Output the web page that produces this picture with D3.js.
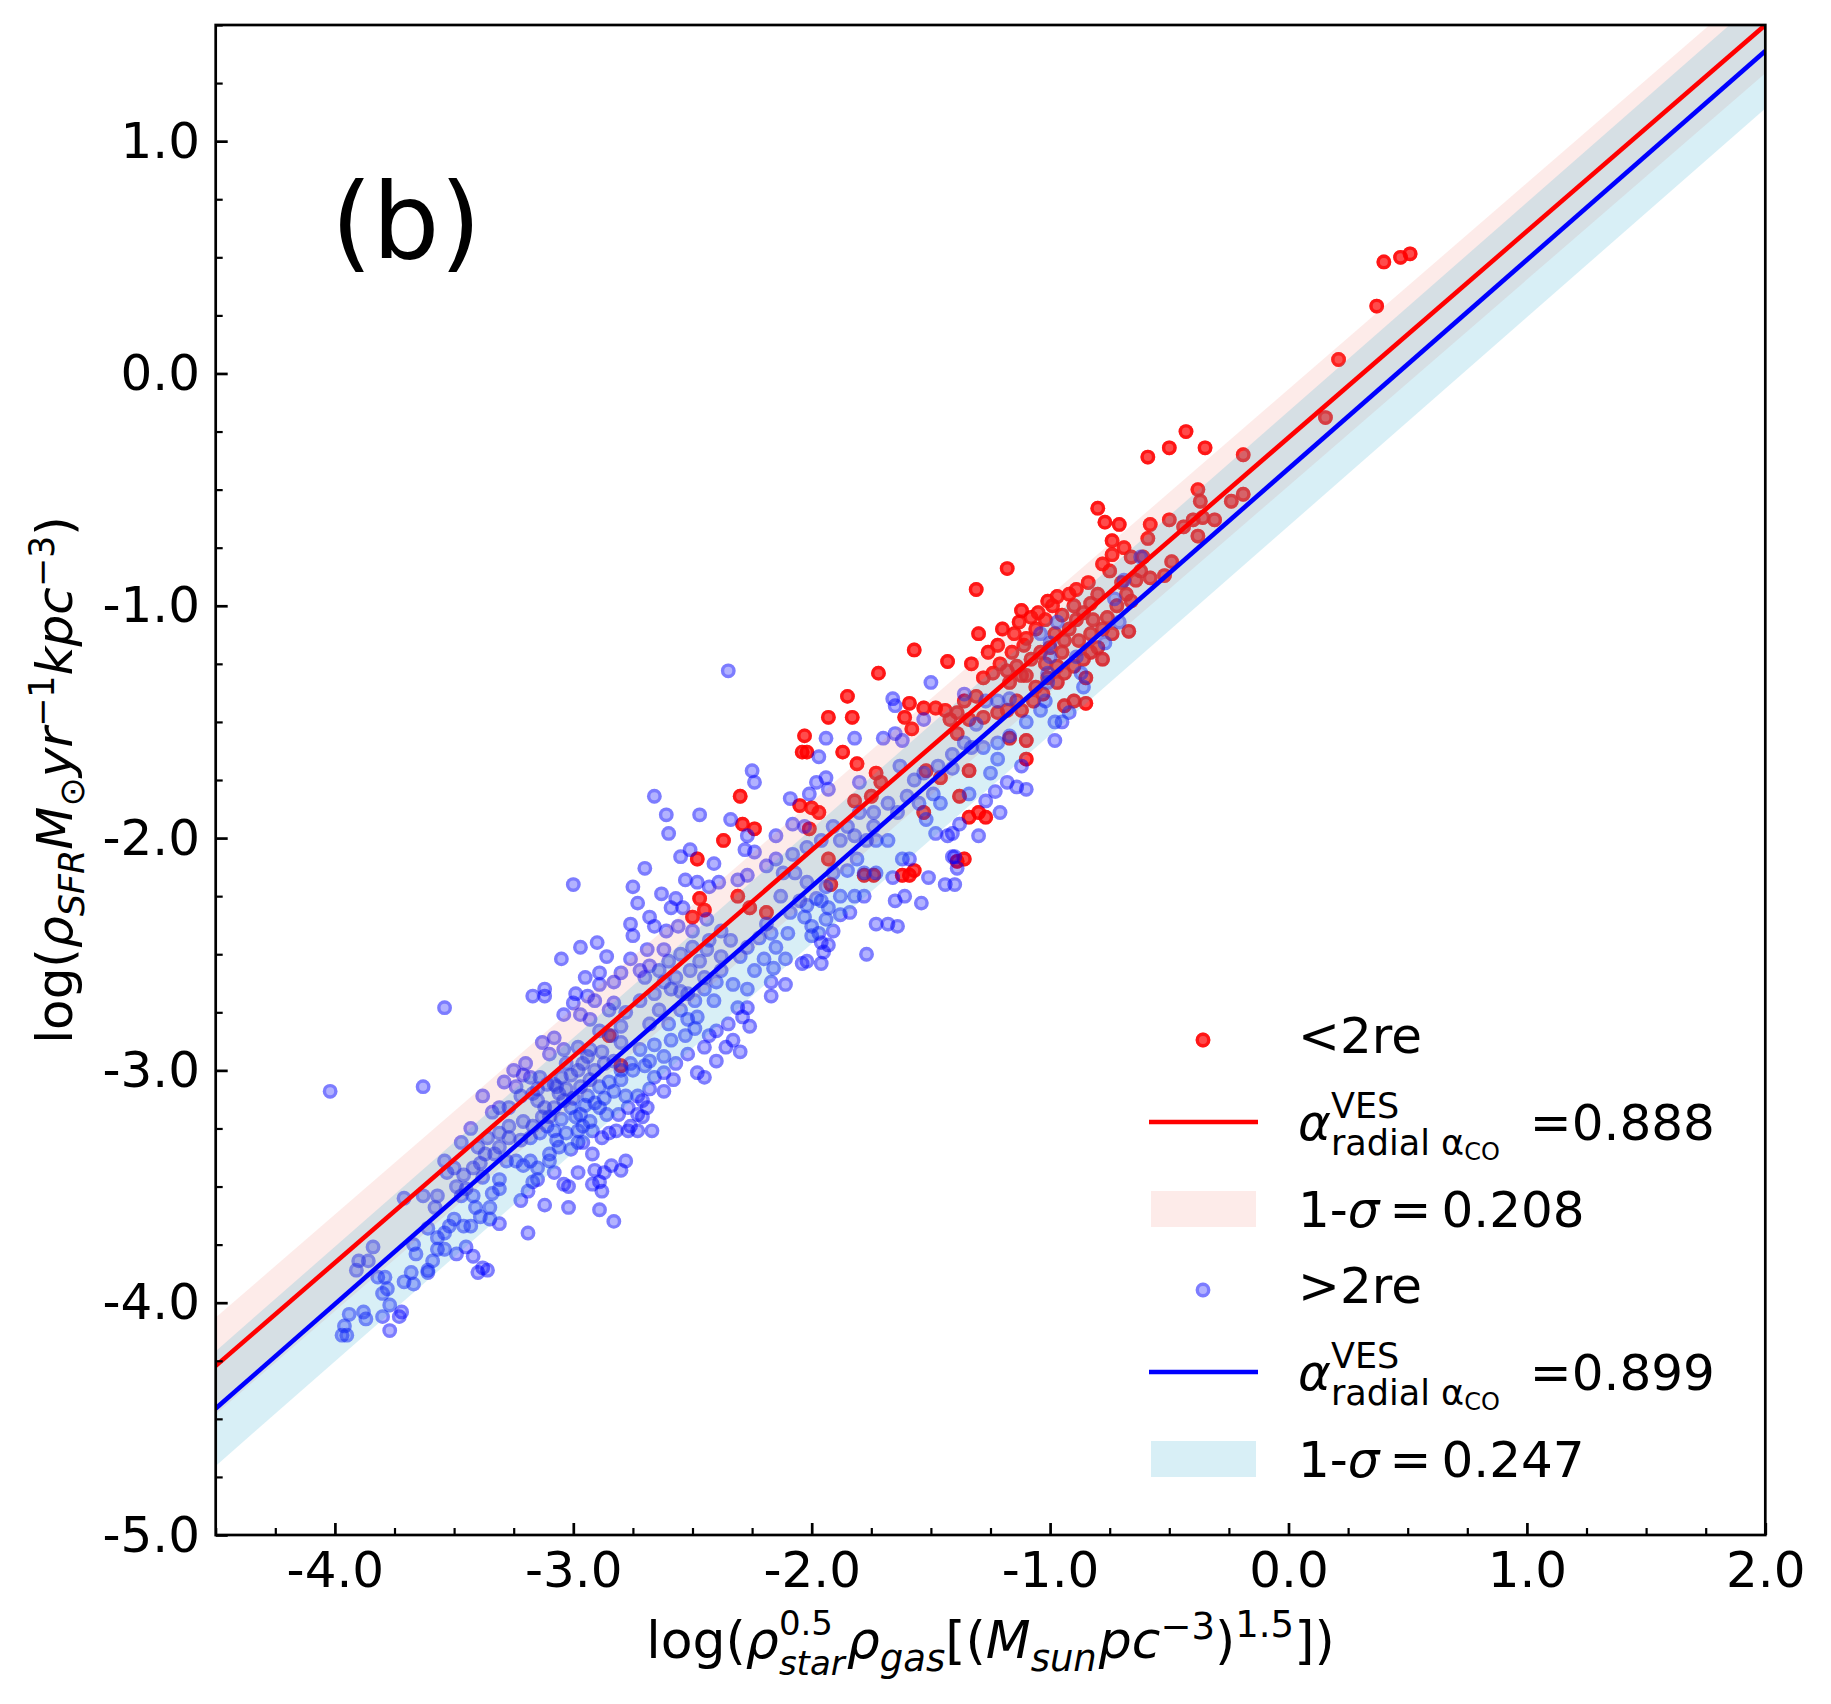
<!DOCTYPE html>
<html>
<head>
<meta charset="utf-8">
<script src="https://cdn.jsdelivr.net/npm/d3@7"></script>
<style>
  body { margin: 0; background: #fff; }
  text { font-family: "DejaVu Sans", sans-serif; fill: #000; }
</style>
</head>
<body>
<svg id="chart" width="1831" height="1704"></svg>
<script>
// ---- data ----
// points inside 2 re (red)
const innerPts = [
  [-2.85,-2.85],[-2.80,-2.98],
  [-1.57,-1.19],[-1.43,-1.24],[-1.72,-1.29],[-1.85,-1.39],[-1.59,-1.42],[-1.53,-1.44],[-1.48,-1.44],[-1.44,-1.45],
  [-1.61,-1.48],[-1.58,-1.53],[-1.93,-1.48],[-1.83,-1.48],[-2.03,-1.56],[-2.04,-1.63],[-2.02,-1.63],[-1.87,-1.63],
  [-1.81,-1.68],[-2.30,-1.82],[-2.05,-1.86],[-2.00,-1.87],[-1.97,-1.89],[-2.29,-1.94],[-2.24,-1.96],[-2.37,-2.01],
  [-2.48,-2.09],[-1.73,-1.72],[-1.71,-1.76],[-1.57,-2.14],[-1.59,-2.16],[-1.62,-2.16],[-1.74,-2.16],[-1.78,-2.16],
  [-2.19,-2.32],[-2.26,-2.30],[-2.31,-2.25],[-2.47,-2.26],[-2.45,-2.31],[-2.50,-2.34],[-2.01,-1.96],[-1.93,-2.09],
  [-1.92,-2.20],[-1.82,-1.84],[-1.75,-1.82],[-1.53,-1.89],[-1.46,-1.74],[-1.52,-1.71],[-1.36,-2.09],[-1.39,-2.10],
  [-1.42,-1.49],
  [-0.43,-0.25],[-0.50,-0.32],[-0.35,-0.32],[-0.59,-0.36],[-0.19,-0.35],[0.155,-0.19],[-0.38,-0.50],[-0.37,-0.55],
  [-0.24,-0.55],[-0.19,-0.52],[-0.80,-0.58],[-0.77,-0.64],[-0.71,-0.65],[-0.58,-0.65],[-0.59,-0.71],[-0.50,-0.63],
  [-0.44,-0.66],[-0.40,-0.63],[-0.36,-0.62],[-0.31,-0.63],[-0.38,-0.70],[-1.18,-0.84],[-1.31,-0.93],[-0.74,-0.72],
  [-0.69,-0.75],[-0.74,-0.78],[-0.78,-0.82],[-0.75,-0.85],[-0.66,-0.79],[-0.61,-0.79],[-0.64,-0.89],[-0.58,-0.88],
  [-0.52,-0.87],[-0.49,-0.81],[-0.68,-0.95],[-0.66,-0.98],[-0.67,-1.11],[-0.76,-1.05],[-0.74,-1.12],[-0.84,-0.90],
  [-0.89,-0.93],[-0.92,-0.95],[-0.97,-0.96],[-1.01,-0.98],[-0.99,-1.00],[-1.05,-1.03],[-1.08,-1.05],[-1.13,-1.07],
  [-1.10,-1.14],[-1.22,-1.17],[-1.33,-1.25],[-1.28,-1.31],[-1.24,-1.29],[-1.21,-1.25],[-1.18,-1.28],[-1.14,-1.26],
  [-1.08,-1.23],[-1.04,-1.20],[-1.00,-1.18],[-0.94,-1.15],[-0.92,-1.10],[-0.89,-1.06],[-0.86,-1.03],[-0.83,-0.99],
  [-0.80,-0.95],[-0.83,-1.12],[-0.80,-1.18],[-0.78,-1.23],[-0.86,-1.23],[-0.85,-1.31],[-0.90,-1.26],[-0.94,-1.29],
  [-0.97,-1.33],[-1.03,-1.38],[-1.07,-1.41],[-0.90,-1.41],[-0.85,-1.42],[-0.94,-1.43],[-1.14,-1.41],[-1.18,-1.45],
  [-1.22,-1.46],[-1.28,-1.48],[-1.34,-1.49],[-1.39,-1.46],[-1.36,-1.41],[-1.31,-1.39],[-1.10,-1.66],[-1.10,-1.58],
  [-1.34,-1.71],[-1.39,-1.55],[-1.27,-1.91],[-1.34,-1.91],[-1.30,-1.89],[-1.38,-1.82],
  [-1.17,-1.33],[-1.12,-1.30],[-1.06,-1.35],[-1.01,-1.31],[-0.97,-1.26],[-0.83,-1.20],[-1.12,-1.45],[-1.11,-1.17],
  [-1.17,-1.57],
  [-1.15,-1.12],[-1.12,-1.02],[-1.06,-1.10],[-1.02,-1.06],[-0.98,-1.12],[-0.95,-1.04],[-0.90,-1.00],[-0.88,-1.15],
  [-0.95,-1.20],[-1.02,-1.25],[-1.10,-1.30],[-1.16,-1.20],[-1.20,-1.10],[-1.26,-1.20],[-1.30,-1.12],[-0.82,-1.06],
  [-0.78,-1.10],[-0.72,-1.00],[-0.70,-0.90],[-0.62,-0.85],
  [0.40,0.48],[0.47,0.50],[0.51,0.515],[0.37,0.29],[0.21,0.06]
];

// points outside 2 re (blue)
const outerPts = [
  [-4.02,-3.09],[-3.63,-3.07],[-3.54,-2.73],[-3.97,-4.14],[-3.95,-4.14],[-3.96,-4.10],[-3.94,-4.05],[-3.88,-4.04],
  [-3.87,-4.07],[-3.80,-4.06],[-3.77,-4.12],[-3.73,-4.06],[-3.72,-4.04],[-3.77,-4.01],[-3.80,-3.96],[-3.78,-3.94],
  [-3.82,-3.89],[-3.79,-3.89],[-3.84,-3.76],[-3.90,-3.82],[-3.91,-3.86],[-3.86,-3.82],[-3.67,-3.75],[-3.66,-3.79],
  [-3.71,-3.91],[-3.67,-3.92],[-3.68,-3.87],[-3.61,-3.87],[-3.61,-3.86],[-3.59,-3.82],[-3.57,-3.77],[-3.54,-3.77],
  [-3.57,-3.72],[-3.61,-3.68],[-3.54,-3.70],[-3.52,-3.67],[-3.50,-3.64],[-3.46,-3.67],[-3.43,-3.67],[-3.45,-3.76],
  [-3.42,-3.80],[-3.49,-3.79],[-3.38,-3.85],[-3.40,-3.87],[-3.36,-3.86],[-3.31,-3.66],[-3.35,-3.64],[-3.39,-3.63],
  [-3.41,-3.59],[-3.35,-3.59],[-3.34,-3.53],[-3.31,-3.51],[-3.31,-3.47],[-3.38,-3.46],[-3.46,-3.45],[-3.49,-3.50],
  [-3.53,-3.44],[-3.50,-3.42],[-3.47,-3.54],[-3.42,-3.54],[-3.45,-3.51],[-3.58,-3.59],[-3.57,-3.54],[-3.63,-3.54],
  [-3.71,-3.55],[-3.54,-3.39],[-3.42,-3.42],[-3.39,-3.40],[-3.37,-3.36],[-3.31,-3.33],[-3.28,-3.39],[-3.24,-3.39],
  [-3.21,-3.41],[-3.18,-3.39],[-3.15,-3.42],[-3.15,-3.47],[-3.12,-3.58],[-3.22,-3.56],[-3.19,-3.52],[-3.17,-3.48],
  [-3.10,-3.39],[-3.08,-3.44],[-3.04,-3.49],[-3.02,-3.50],[-2.98,-3.44],[-2.91,-3.43],[-2.87,-3.44],[-2.84,-3.41],
  [-2.80,-3.43],[-2.78,-3.39],[-2.89,-3.48],[-2.88,-3.52],[-2.92,-3.49],[-3.02,-3.59],[-2.89,-3.60],[-2.83,-3.65],
  [-3.19,-3.70],[-3.10,-3.36],[-3.06,-3.33],[-3.07,-3.30],[-3.01,-3.34],[-2.98,-3.31],[-2.96,-3.31],[-2.92,-3.36],
  [-2.98,-3.26],[-2.96,-3.24],[-2.93,-3.22],[-2.88,-3.29],[-2.85,-3.27],[-2.82,-3.26],[-2.77,-3.26],[-2.73,-3.26],
  [-2.67,-3.26],[-2.76,-3.24],[-2.71,-3.20],[-2.69,-3.16],[-2.73,-3.19],[-2.77,-3.16],[-2.81,-3.19],[-2.86,-3.19],
  [-2.89,-3.16],[-2.91,-3.14],[-2.94,-3.11],[-2.97,-3.19],[-3.01,-3.16],[-3.04,-3.13],[-3.08,-3.16],[-3.12,-3.16],
  [-3.15,-3.13],[-3.15,-3.08],[-3.11,-3.06],[-3.07,-3.07],[-3.03,-3.08],[-2.97,-3.07],[-2.93,-3.04],[-2.89,-3.07],
  [-2.85,-3.05],[-2.80,-3.04],[-2.73,-3.11],[-2.71,-3.13],[-2.80,-3.00],[-2.83,-2.96],[-2.87,-2.97],[-2.91,-3.00],
  [-2.96,-2.97],[-2.98,-3.00],[-3.01,-3.02],[-3.05,-3.03],[-3.08,-3.06],[-3.14,-3.03],[-3.18,-3.03],[-3.21,-3.02],
  [-3.25,-3.00],[-3.29,-3.05],[-3.22,-3.11],[-3.27,-3.16],[-3.31,-3.16],[-3.34,-3.18],[-3.38,-3.11],[-3.43,-3.25],
  [-3.47,-3.31],[-3.27,-3.24],[-3.21,-3.22],[-3.17,-3.24],[-3.18,-3.29],[-3.22,-3.30],[-3.27,-3.29],[-3.14,-3.27],
  [-3.11,-3.24],[-3.10,-3.20],[-3.05,-3.21],[-3.03,-3.27],[-3.08,-3.26],[-3.36,-3.29],[-3.40,-3.33],[-3.33,-3.36],
  [-3.31,-3.27],
  [-3.06,-3.10],[-3.00,-3.12],[-2.95,-3.15],[-2.99,-3.20],[-2.92,-3.26],[-2.87,-3.12],[-2.83,-3.09],[-2.78,-3.11],
  [-3.13,-3.20],[-3.17,-3.10],[-3.24,-3.07],[-3.20,-2.97],[-3.03,-2.97],[-2.93,-2.91],[-2.88,-2.92],[-2.76,-2.97],
  [-2.70,-2.98],[-2.68,-3.08],[-2.62,-3.09],
  [-3.12,-2.65],[-3.17,-2.68],[-3.12,-2.68],[-2.95,-2.60],[-2.89,-2.58],[-2.89,-2.63],[-2.83,-2.62],[-2.80,-2.58],
  [-2.80,-2.88],[-2.84,-2.85],[-2.89,-2.83],[-2.93,-2.78],[-2.97,-2.76],[-3.00,-2.71],[-3.04,-2.76],[-3.08,-2.86],
  [-3.13,-2.88],[-3.10,-2.93],[-3.04,-2.91],[-2.98,-2.90],[-2.94,-2.94],[-2.85,-2.74],[-2.91,-2.70],[-2.94,-2.68],
  [-2.99,-2.67],[-2.83,-2.71],[-2.80,-2.81],
  [-3.00,-2.20],[-2.97,-2.47],[-2.90,-2.45],[-3.05,-2.52],[-2.86,-2.51],
  [-2.35,-1.28],[-2.66,-1.82],[-2.61,-1.90],[-2.60,-1.98],[-2.47,-1.90],[-2.70,-2.13],[-2.75,-2.21],[-2.73,-2.28],
  [-2.63,-2.24],[-2.55,-2.08],[-2.51,-2.05],[-2.41,-2.11],[-2.34,-1.92],[-2.27,-1.99],[-2.28,-2.05],[-2.24,-2.06],
  [-2.25,-1.71],[-2.24,-1.76],[-2.15,-1.99],[-2.09,-1.83],[-2.01,-1.81],[-1.98,-1.76],[-1.94,-1.74],[-1.93,-1.79],
  [-1.94,-1.57],[-1.97,-1.65],[-1.82,-1.57],[-1.80,-1.76],[-1.70,-1.57],[-1.65,-1.55],[-1.62,-1.58],[-1.66,-1.40],
  [-1.65,-1.43],[-1.50,-1.33],[-1.53,-1.49],[-2.53,-2.18],[-2.48,-2.19],[-2.43,-2.21],[-2.39,-2.19],[-2.31,-2.18],
  [-2.27,-2.16],[-2.19,-2.12],[-2.57,-2.26],[-2.54,-2.30],[-2.59,-2.30],[-2.68,-2.34],[-2.76,-2.37],[-2.75,-2.42],
  [-2.66,-2.38],[-2.61,-2.40],[-2.56,-2.38],[-2.50,-2.40],[-2.44,-2.35],[-2.38,-2.40],[-2.43,-2.44],[-2.34,-2.44],
  [-2.27,-2.47],[-2.30,-2.51],[-2.38,-2.51],[-2.44,-2.48],[-2.50,-2.47],[-2.55,-2.50],[-2.62,-2.48],[-2.69,-2.48],
  [-2.76,-2.52],[-2.72,-2.57],[-2.64,-2.57],[-2.57,-2.60],[-2.51,-2.57],[-2.45,-2.60],[-2.38,-2.57],[-2.45,-2.65],
  [-2.52,-2.67],[-2.59,-2.65],[-2.66,-2.67],[-2.72,-2.70],[-2.78,-2.75],[-2.64,-2.74],[-2.55,-2.74],[-2.48,-2.77],
  [-2.40,-2.83],[-2.43,-2.85],[-2.49,-2.82],[-2.53,-2.85],[-2.59,-2.87],[-2.66,-2.89],[-2.72,-2.91],[-2.62,-2.94],
  [-2.57,-2.97],[-2.48,-3.01],[-2.45,-3.03],[-2.58,-3.04],[-2.66,-3.03],[-2.36,-2.90],[-2.33,-2.87],[-2.30,-2.92],
  [-2.31,-2.73],[-2.27,-2.73],[-2.26,-2.81],[-2.29,-2.77],[-2.33,-2.63],[-2.27,-2.65],[-2.17,-2.62],[-2.11,-2.63],
  [-2.17,-2.68],[-2.20,-2.52],[-2.24,-2.57],[-2.16,-2.56],[-2.11,-2.52],[-2.04,-2.54],[-2.02,-2.53],[-1.96,-2.54],
  [-2.15,-2.47],[-2.10,-2.41],[-2.17,-2.41],[-2.22,-2.43],[-2.19,-2.37],[-2.09,-2.32],[-2.03,-2.34],[-2.00,-2.38],
  [-2.00,-2.42],[-1.96,-2.45],[-1.93,-2.46],[-1.95,-2.49],[-1.94,-2.35],[-1.88,-2.33],[-1.93,-2.30],[-1.98,-2.26],
  [-2.05,-2.27],[-2.13,-2.25],[-2.02,-2.19],[-2.07,-2.15],[-2.12,-2.15],[-2.15,-2.09],[-2.08,-2.07],[-2.02,-2.04],
  [-1.96,-2.01],[-2.03,-1.95],[-2.08,-1.94],[-1.91,-1.95],[-1.85,-1.95],[-1.88,-2.01],[-1.82,-1.99],[-1.77,-2.01],
  [-1.73,-2.01],[-1.68,-2.01],[-1.74,-1.95],[-1.80,-1.89],[-1.74,-1.89],[-1.68,-1.85],[-1.64,-1.89],[-1.60,-1.82],
  [-1.55,-1.85],[-1.49,-1.81],[-1.46,-1.85],[-1.52,-1.92],[-1.48,-1.98],[-1.43,-1.99],
  [-2.70,-2.60],[-2.62,-2.62],[-2.55,-2.66],[-2.49,-2.70],[-2.41,-2.70],[-2.68,-2.80],[-2.60,-2.80],[-2.52,-2.78],
  [-2.45,-2.90],[-2.52,-2.93],[-2.68,-2.96],[-2.75,-3.00],[-2.62,-3.01],[-2.40,-2.96],[-2.35,-2.80],[-2.40,-2.62],
  [-2.47,-2.53],[-2.60,-2.53],[-2.68,-2.55],
  [-1.40,-2.08],[-1.41,-2.08],[-1.39,-2.13],[-1.44,-2.20],[-1.40,-2.20],[-1.51,-2.17],[-1.59,-2.09],[-1.62,-2.09],
  [-1.66,-2.17],[-1.73,-2.15],[-1.78,-2.15],[-1.81,-2.09],[-1.85,-2.14],[-1.91,-2.15],[-1.94,-2.21],[-1.96,-2.27],
  [-1.88,-2.25],[-1.82,-2.25],[-1.78,-2.25],[-1.84,-2.32],[-1.91,-2.40],[-1.97,-2.41],[-2.02,-2.29],[-1.65,-2.27],
  [-1.61,-2.25],[-1.54,-2.28],[-1.73,-2.37],[-1.68,-2.37],[-1.64,-2.38],[-1.77,-2.50],
  [-1.63,-1.69],[-1.57,-1.75],[-1.53,-1.72],[-1.47,-1.69],
  [-0.62,-0.79],[-0.69,-0.89],[-0.73,-0.97],[-0.71,-1.07],[-0.97,-1.07],[-1.04,-1.12],[-1.00,-1.16],[-1.00,-1.22],
  [-0.77,-1.16],[-0.89,-1.22],[-0.87,-1.29],[-0.86,-1.35],[-1.01,-1.29],[-1.01,-1.33],[-0.92,-1.46],[-0.95,-1.50],
  [-0.98,-1.50],[-0.98,-1.58],[-1.04,-1.45],[-1.02,-1.41],[-1.10,-1.50],[-1.17,-1.40],[-1.22,-1.41],[-1.27,-1.41],
  [-1.36,-1.38],[-1.31,-1.51],[-1.36,-1.59],[-1.33,-1.61],[-1.28,-1.61],[-1.22,-1.59],[-1.17,-1.56],[-1.22,-1.66],
  [-1.41,-1.64],[-1.41,-1.70],[-1.25,-1.72],[-1.18,-1.76],[-1.14,-1.78],[-1.10,-1.79],[-1.12,-1.69],[-1.23,-1.80],
  [-1.27,-1.84],[-1.21,-1.89],[-1.34,-1.81],[-1.38,-1.94],[-1.30,-1.99],[-1.41,-1.98]
];

// fits: slope, intercept and 1-sigma scatter for <2re and >2re
const seriesNames = ["<2re", ">2re"];
const fitSlope = [0.888, 0.899];
const fitIntercept = [-0.276, -0.410];
const fitSigma = [0.208, 0.247];
const slopeLabels = ["=0.888", "=0.899"];
const sigmaLabels = ["0.208", "0.247"];

const xTicks = [-4, -3, -2, -1, 0, 1, 2];
const yTicks = [-5, -4, -3, -2, -1, 0, 1];

// ---- layout ----
const box = {left: 215.7, right: 1765.3, top: 25, bottom: 1535};
const FS = 50;       // main font px
const FS2 = 35;      // script font px

const svg = d3.select("#chart");
svg.append("rect").attr("width", 1831).attr("height", 1704).attr("fill", "#fff");

const x = d3.scaleLinear().domain([-4.5, 2.0]).range([box.left, box.right]);
const y = d3.scaleLinear().domain([-5.0, 1.5]).range([box.bottom, box.top]);

svg.append("clipPath").attr("id", "clip")
    .append("rect")
    .attr("x", box.left).attr("y", box.top)
    .attr("width", box.right - box.left).attr("height", box.bottom - box.top);

const plot = svg.append("g").attr("clip-path", "url(#clip)");

const colRed = "rgb(255,0,0)", colBlue = "rgb(0,0,255)";
const bandFill = ["rgb(240,110,100)", "rgb(60,175,210)"];
const bandAlpha = [0.14, 0.2];

// scatter: translucent disc plus a translucent ring on its rim
const MR = 7.4, RING = 3.4;
function drawPoints(sel, pts, col, alpha) {
    let g = sel.selectAll(null).data(pts).join("g")
        .attr("transform", d => "translate(" + x(d[0]) + "," + y(d[1]) + ")");
    g.append("circle").attr("r", MR)
        .attr("fill", col).attr("fill-opacity", alpha);
    g.append("circle").attr("r", MR - RING / 2)
        .attr("fill", "none")
        .attr("stroke", col).attr("stroke-opacity", alpha)
        .attr("stroke-width", RING);
}
drawPoints(plot.append("g"), innerPts, colRed, 0.7);
drawPoints(plot.append("g"), outerPts, colBlue, 0.3);

// bands and fit lines
const xs = x.domain();
[0, 1].forEach(i => {
    let band = d3.area()
        .x(d => x(d))
        .y0(d => y(fitSlope[i] * d + fitIntercept[i] - fitSigma[i]))
        .y1(d => y(fitSlope[i] * d + fitIntercept[i] + fitSigma[i]));
    plot.append("path").attr("d", band(xs))
        .attr("fill", bandFill[i]).attr("fill-opacity", bandAlpha[i]);
});
[0, 1].forEach(i => {
    let line = d3.line().x(d => x(d)).y(d => y(fitSlope[i] * d + fitIntercept[i]));
    plot.append("path").attr("d", line(xs))
        .attr("fill", "none")
        .attr("stroke", i === 0 ? colRed : colBlue)
        .attr("stroke-width", 4.6);
});

// axes (ticks pointing inward)
const fmt = d => d.toFixed(1);
const xMinor = d3.range(-4.5, 2.001, 0.25).filter(v => Math.abs(v - Math.round(v)) > 1e-6);
const yMinor = d3.range(-5, 1.501, 0.25).filter(v => Math.abs(v - Math.round(v)) > 1e-6);

let xAx = svg.append("g").attr("transform", "translate(0," + box.bottom + ")")
    .call(d3.axisBottom(x).tickValues(xTicks).tickFormat(fmt).tickSize(-12).tickPadding(16.5));
let xAxMinor = svg.append("g").attr("transform", "translate(0," + box.bottom + ")")
    .call(d3.axisBottom(x).tickValues(xMinor).tickFormat("").tickSize(-7));
let yAx = svg.append("g").attr("transform", "translate(" + box.left + ",0)")
    .call(d3.axisLeft(y).tickValues(yTicks).tickFormat(fmt).tickSize(-12).tickPadding(15.7));
let yAxMinor = svg.append("g").attr("transform", "translate(" + box.left + ",0)")
    .call(d3.axisLeft(y).tickValues(yMinor).tickFormat("").tickSize(-7));

[xAx, xAxMinor, yAx, yAxMinor].forEach(a => {
    a.select(".domain").remove();
    a.selectAll("line").attr("stroke", "#000");
});
[xAx, yAx].forEach(a => a.selectAll("line").attr("stroke-width", 2.7));
[xAxMinor, yAxMinor].forEach(a => a.selectAll("line").attr("stroke-width", 2.2));
[xAx, yAx].forEach(a => a.selectAll("text")
    .attr("font-family", "DejaVu Sans").attr("font-size", FS).attr("fill", "#000"));

svg.append("rect")
    .attr("x", box.left).attr("y", box.top)
    .attr("width", box.right - box.left).attr("height", box.bottom - box.top)
    .attr("fill", "none").attr("stroke", "#000").attr("stroke-width", 2.7);

// panel tag
svg.append("text").attr("x", 331).attr("y", 258)
    .style("font-size", "106px").text("(b)");

// ---- mathtext-ish helper ----
// one <text>, one tspan per run; a "stack" run sits under the previous run (sup + sub)
function mathText(parent, runs) {
    const g = parent.append("g");
    const txt = g.append("text");
    let cx = 0, lastStart = 0;
    runs.forEach(r => {
        const sx = r.stack ? lastStart : cx + (r.gap || 0);
        if (!r.stack) lastStart = sx;
        const t = txt.append("tspan").attr("x", sx).attr("y", r.dy || 0)
            .style("font-size", r.s + "px")
            .style("font-style", r.i ? "italic" : "normal")
            .text(r.t);
        const w = t.node().getComputedTextLength();
        cx = Math.max(cx, sx + w);
    });
    return {g: g, width: cx};
}

// x label
const LX = 52, LX2 = 37;
let xl = mathText(svg, [
    {t: "log(", s: LX},
    {t: "ρ", s: LX, i: true},
    {t: "0.5", s: 34, dy: -23},
    {t: "star", s: 34, i: true, dy: 17, stack: true},
    {t: "ρ", s: LX, i: true, gap: 2},
    {t: "gas", s: LX2, i: true, dy: 13},
    {t: "[(", s: LX},
    {t: "M", s: LX, i: true},
    {t: "sun", s: LX2, i: true, dy: 13},
    {t: "pc", s: LX, i: true, gap: 2},
    {t: "−3", s: LX2, dy: -19},
    {t: ")", s: LX},
    {t: "1.5", s: LX2, dy: -21},
    {t: "])", s: LX}
]);
xl.g.attr("transform", "translate(" + ((box.left + box.right) / 2 - xl.width / 2) + ",1658)");

// y label
let yHolder = svg.append("g")
    .attr("transform", "translate(72," + ((box.top + box.bottom) / 2) + ") rotate(-90)");
let yl = mathText(yHolder, [
    {t: "log(", s: FS},
    {t: "ρ", s: FS, i: true},
    {t: "SFR", s: FS2, i: true, dy: 12},
    {t: "M", s: FS, i: true},
    {t: "⊙", s: FS2, dy: 12},
    {t: "yr", s: FS, i: true},
    {t: "−1", s: FS2, dy: -18},
    {t: "kpc", s: FS, i: true},
    {t: "−3", s: FS2, dy: -18},
    {t: ")", s: FS}
]);
yl.g.attr("transform", "translate(" + (-yl.width / 2) + ",0)");

// ---- legend ----
const lg = svg.append("g");
const lgKeyX = [1149, 1258], lgTextX = 1298;
const rowY = {
    pts: [1040, 1290],      // marker rows
    ptsBase: [1053, 1303],
    line: [1122, 1372],
    lineBase: [1140, 1390],
    patch: [1191, 1441],
    patchBase: [1227, 1477]
};
[0, 1].forEach(i => {
    const col = i === 0 ? colRed : colBlue;
    const a = i === 0 ? 0.7 : 0.3;
    drawPoints(lg.append("g"), [[x.invert(1203), y.invert(rowY.pts[i])]], col, a);
    lg.append("text").attr("x", lgTextX).attr("y", rowY.ptsBase[i])
        .style("font-size", FS + "px").text(seriesNames[i]);

    lg.append("line")
        .attr("x1", lgKeyX[0]).attr("x2", lgKeyX[1])
        .attr("y1", rowY.line[i]).attr("y2", rowY.line[i])
        .attr("stroke", col).attr("stroke-width", 4.6);
    let m = mathText(lg, [
        {t: "α", s: FS, i: true},
        {t: "VES", s: FS2, dy: -22},
        {t: "radial α", s: FS2, dy: 15, stack: true},
        {t: "CO", s: 24, dy: 20},
        {t: slopeLabels[i], s: FS, gap: 30}
    ]);
    m.g.attr("transform", "translate(" + lgTextX + "," + rowY.lineBase[i] + ")");

    lg.append("rect")
        .attr("x", 1151).attr("y", rowY.patch[i])
        .attr("width", 105).attr("height", 36)
        .attr("fill", bandFill[i]).attr("fill-opacity", bandAlpha[i]);
    let s = mathText(lg, [
        {t: "1-", s: FS},
        {t: "σ", s: FS, i: true},
        {t: "=", s: FS, gap: 10},
        {t: sigmaLabels[i], s: FS, gap: 10}
    ]);
    s.g.attr("transform", "translate(" + lgTextX + "," + rowY.patchBase[i] + ")");
});
</script>
</body>
</html>
